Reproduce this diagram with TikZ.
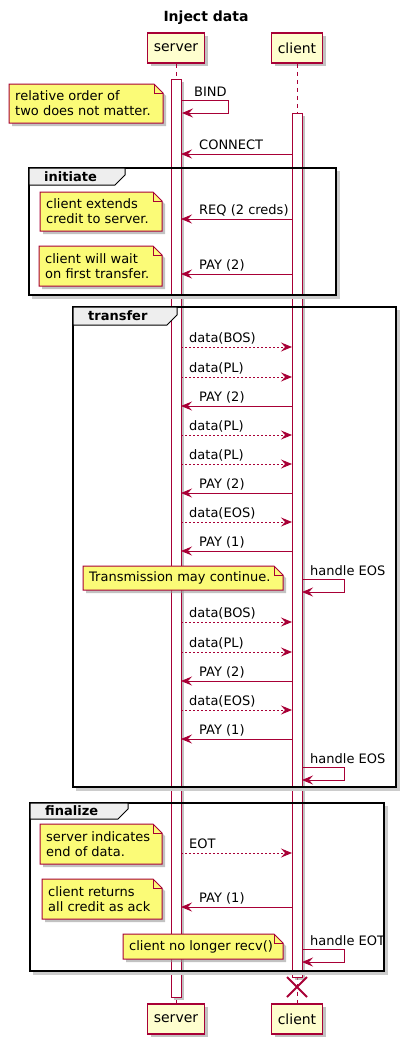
\documentclass[tikz,border=0pt]{standalone}
\usepackage{fontspec}
\setmainfont{DejaVu Sans}
\usetikzlibrary{arrows.meta,shadows}

\definecolor{umlred}{HTML}{A80036}
\definecolor{umlbox}{HTML}{FEFECE}
\definecolor{umlnote}{HTML}{FBFB77}
\definecolor{umltab}{HTML}{EEEEEE}

\tikzset{
  umlshadow/.style={drop shadow={shadow xshift=3pt, shadow yshift=-3pt, fill=black!40, opacity=.6}},
  participant/.style={draw=umlred, fill=umlbox, line width=1.5pt, minimum width=#1,
    minimum height=30pt, inner sep=0pt, font=\fontsize{14}{16}\selectfont, umlshadow},
  lifeline/.style={draw=umlred, line width=1pt, dash pattern=on 4pt off 4pt},
  activebar/.style={draw=umlred, fill=white, line width=1pt, umlshadow},
  msg/.style={draw=umlred, line width=1pt, -{Stealth[length=11pt, width=9pt, inset=4pt]}},
  datamsg/.style={msg, dash pattern=on 2pt off 2pt},
  msglabel/.style={anchor=base west, inner sep=0pt, font=\fontsize{13}{15}\selectfont},
  frame/.style={draw=black, line width=1.5pt},
  frameshadow/.style={draw=black!20, line width=2.5pt},
  frametab/.style={draw=black, fill=umltab, line width=1pt},
  framelabel/.style={anchor=west, inner sep=0pt, font=\bfseries\fontsize{13}{15}\selectfont},
  notebox/.style={draw=umlred, fill=umlnote, line width=1pt, umlshadow},
  notefold/.style={draw=umlred, line width=1pt},
  notetext/.style={anchor=west, align=left, inner sep=0pt, font=\fontsize{13}{15}\selectfont},
  destroy/.style={draw=umlred, line width=2pt}
}

% name, x1, y1, x2, y2, text
\newcommand{\umlnote}[6]{%
  \draw[notebox] (#2,#3) -- ({#4-9},#3) -- (#4,{#3+9}) -- (#4,#5) -- (#2,#5) -- cycle;
  \draw[notefold] ({#4-9},#3) -- ({#4-9},{#3+9}) -- (#4,{#3+9});
  \node[notetext] (#1) at ({#2+6},{(#3+#5)/2}) {#6};
}

\begin{document}
\begin{tikzpicture}[x=1pt, y=-1pt]
\useasboundingbox (0,0) rectangle (405,1044);

\node(title) at (206,18)[font=\bfseries\fontsize{14}{16}\selectfont] {Inject data};

% participants
\node(sTop) at (176,48)[participant=57pt] {server};
\node(cTop) at (297,48)[participant=51pt] {client};
\node(sBot) at (176,1019)[participant=57pt] {server};
\node(cBot) at (297,1019)[participant=51pt] {client};
\draw[lifeline] (sTop.south) -- (sBot.north);
\draw[lifeline] (cTop.south) -- (cBot.north);

% activations
\draw[activebar] (171,79) rectangle (181,997);
\draw[activebar] (292,113) rectangle (302,977);

% groups
\draw[frameshadow] (32,297.5) -- (338.5,297.5) -- (338.5,171);
\draw[frame] (29,168) rectangle (336,295);
\draw[frametab] (29,168) -- (125,168) -- (125,175) -- (115,185) -- (29,185) -- cycle;
\node(gInit) at (44,176.5)[framelabel] {initiate};

\draw[frameshadow] (76,789.5) -- (398.5,789.5) -- (398.5,310);
\draw[frame] (73,307) rectangle (396,787);
\draw[frametab] (73,307) -- (177,307) -- (177,315) -- (167,325) -- (73,325) -- cycle;
\node(gTransfer) at (88,316)[framelabel] {transfer};

\draw[frameshadow] (33,973.5) -- (386.5,973.5) -- (386.5,806);
\draw[frame] (30,803) rectangle (384,971);
\draw[frametab] (30,803) -- (128,803) -- (128,809) -- (118,819) -- (30,819) -- cycle;
\node(gFinal) at (45,811)[framelabel] {finalize};

% client -> server
\foreach \n/\y/\txt in {1/154/CONNECT, 2/219/REQ (2 creds), 3/274/PAY (2),
    4/406/PAY (2), 5/493/PAY (2), 6/551/PAY (1), 7/681/PAY (2), 8/739/PAY (1), 9/907/PAY (1)} {
  \coordinate (cPay\n) at (292,\y);
  \coordinate (sPay\n) at (181,\y);
  \draw[msg] (cPay\n) -- (sPay\n);
  \node(lPay\n) at (199,\y-5)[msglabel] {\txt};
}

% server -> client
\foreach \n/\y/\txt in {1/347/data(BOS), 2/377/data(PL), 3/435/data(PL), 4/464/data(PL),
    5/522/data(EOS), 6/622/data(BOS), 7/652/data(PL), 8/710/data(EOS), 9/853/EOT} {
  \coordinate (sData\n) at (181,\y);
  \coordinate (cData\n) at (292,\y);
  \draw[datamsg] (sData\n) -- (cData\n);
  \node(lData\n) at (189,\y-5)[msglabel] {\txt};
}

% self messages
\coordinate (sBind) at (181,100);
\coordinate (sBindEnd) at (182,113);
\draw[msg] (sBind) -- (228,100) -- (228,113) -- (sBindEnd);
\node(lBind) at (194,96)[msglabel] {BIND};

\foreach \n/\y/\txt in {1/579/handle EOS, 2/767/handle EOS, 3/949/handle EOT} {
  \coordinate (cSelf\n) at (302,\y);
  \coordinate (cSelfEnd\n) at (302,\y+13);
  \draw[msg] (cSelf\n) -- (344,\y) -- (344,\y+13) -- (cSelfEnd\n);
  \node(lSelf\n) at (310,\y-4)[msglabel] {\txt};
}

% end of client
\coordinate (cEnd) at (297,987);
\draw[destroy] (cEnd) ++(-10,-10) -- ++(20,20) (cEnd) ++(-10,10) -- ++(20,-20);

% notes
\umlnote{nOrder}{9}{84}{163}{123}{relative order of\\two does not matter.}
\umlnote{nCredit}{40}{192}{162}{231}{client extends\\credit to server.}
\umlnote{nWait}{39}{246}{162}{286}{client will wait\\on first transfer.}
\umlnote{nCont}{83}{566}{283}{590}{Transmission may continue.}
\umlnote{nEnd}{40}{824}{162}{864}{server indicates\\end of data.}
\umlnote{nAck}{42}{879}{162}{919}{client returns\\all credit as ack}
\umlnote{nRecv}{123}{934}{283}{959}{client no longer recv()}

\end{tikzpicture}
\end{document}
